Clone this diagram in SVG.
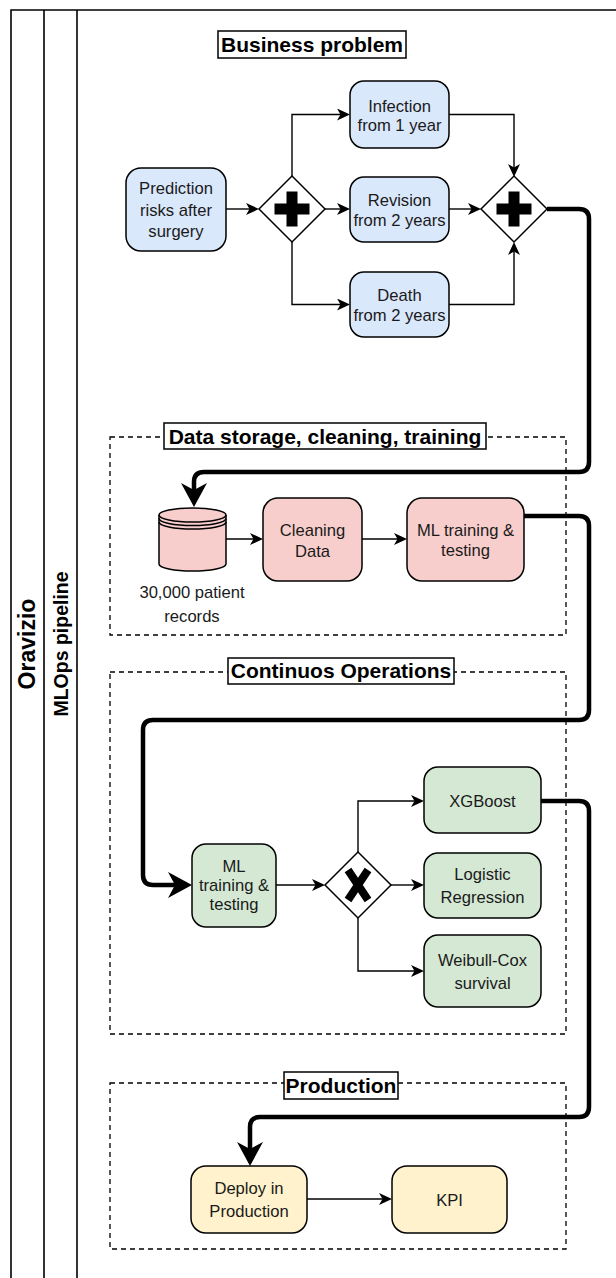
<svg xmlns="http://www.w3.org/2000/svg" width="616" height="1278" viewBox="0 0 616 1278">
<style>
.lane{fill:none;stroke:#000;stroke-width:1.6}
.box{stroke:#000;stroke-width:1.5}
.blue{fill:#dae8fc}
.red{fill:#f8cecc}
.green{fill:#d5e8d4}
.yellow{fill:#fff2cc}
.gw{fill:#fff;stroke:#000;stroke-width:1.5}
.t{font-family:"Liberation Sans",Arial,sans-serif;font-size:16.6px;fill:#1a1a1a;text-anchor:middle}
.title{font-family:"Liberation Sans",Arial,sans-serif;font-size:21px;font-weight:bold;fill:#000;text-anchor:middle}
.tbox{fill:#fff;stroke:#000;stroke-width:1.5}
.dash{fill:none;stroke:#000;stroke-width:1.3;stroke-dasharray:5 4}
.thin{fill:none;stroke:#000;stroke-width:1.4}
.thick{fill:none;stroke:#000;stroke-width:4.5}
</style>
<defs>
<marker id="a" markerUnits="userSpaceOnUse" markerWidth="14" markerHeight="14" refX="9" refY="6" orient="auto">
<path d="M0,0 L13,6 L0,12 L3.5,6 Z" fill="#000"/>
</marker>
<marker id="A" markerUnits="userSpaceOnUse" markerWidth="26" markerHeight="28" refX="14" refY="13" orient="auto">
<path d="M0,0 L24,13 L0,26 L7,13 Z" fill="#000"/>
</marker>
</defs>
<rect width="616" height="1278" fill="#fff"/>

<g id="lanes">
<path class="lane" d="M11,1280 V10 H620 M44,10 V1280 M77,10 V1280"/>
<text transform="translate(35,644) rotate(-90)" style="font-family:'Liberation Sans',Arial,sans-serif;font-size:23px;font-weight:bold;text-anchor:middle">Oravizio</text>
<text transform="translate(68,644) rotate(-90)" style="font-family:'Liberation Sans',Arial,sans-serif;font-size:19.5px;font-weight:bold;text-anchor:middle">MLOps pipeline</text>
</g>

<g id="sections">
<rect class="dash" x="110" y="437" width="456" height="198"/>
<rect class="dash" x="110" y="672" width="456" height="362"/>
<rect class="dash" x="110" y="1083" width="456" height="166"/>
</g>

<g id="connectors">
<path class="thin" d="M226,209 H255" marker-end="url(#a)"/>
<path class="thin" d="M292,177 V114.5 H346" marker-end="url(#a)"/>
<path class="thin" d="M325,209 H346" marker-end="url(#a)"/>
<path class="thin" d="M292,242 V304.5 H346" marker-end="url(#a)"/>
<path class="thin" d="M449,114.5 H514 V173" marker-end="url(#a)"/>
<path class="thin" d="M449,209 H477" marker-end="url(#a)"/>
<path class="thin" d="M449,304.5 H514 V246" marker-end="url(#a)"/>
<path class="thin" d="M226,539 H259" marker-end="url(#a)"/>
<path class="thin" d="M362,539 H403" marker-end="url(#a)"/>
<path class="thin" d="M276,885 H321" marker-end="url(#a)"/>
<path class="thin" d="M358,852 V801 H420" marker-end="url(#a)"/>
<path class="thin" d="M391,885 H420" marker-end="url(#a)"/>
<path class="thin" d="M358,918 V971 H420" marker-end="url(#a)"/>
<path class="thin" d="M307,1199 H388" marker-end="url(#a)"/>
<path class="thick" d="M547,209 H579 Q589,209 589,219 V462 Q589,472 579,472 H204 Q194,472 194,482 V497" marker-end="url(#A)"/>
<path class="thick" d="M524,516 H579 Q589,516 589,526 V710 Q589,720 579,720 H153 Q143,720 143,730 V875 Q143,885 153,885 H182" marker-end="url(#A)"/>
<path class="thick" d="M541,801 H579 Q589,801 589,811 V1107 Q589,1117 579,1117 H260 Q250,1117 250,1127 V1156" marker-end="url(#A)"/>
</g>

<g id="title-business">
<rect class="tbox" x="218" y="31" width="188" height="27"/>
<text class="title" x="312" y="51.5">Business problem</text>
</g>
<g id="title-data">
<rect class="tbox" x="164" y="423" width="322" height="26"/>
<text class="title" x="325" y="443.5">Data storage, cleaning, training</text>
</g>
<g id="title-ops">
<rect class="tbox" x="228" y="658" width="226" height="26"/>
<text class="title" x="341" y="677.5">Continuos Operations</text>
</g>
<g id="title-prod">
<rect class="tbox" x="284" y="1072" width="114" height="27"/>
<text class="title" x="341" y="1092.5">Production</text>
</g>

<g id="prediction">
<rect class="box blue" x="126" y="168" width="100" height="83" rx="15"/>
<text class="t" x="176" y="194">Prediction</text>
<text class="t" x="176" y="215.5">risks after</text>
<text class="t" x="176" y="237">surgery</text>
</g>
<g id="gateway1">
<path class="gw" d="M292,176 L325,209 L292,242 L259,209 Z"/>
<path d="M286.5,191.5 H297.5 V203.5 H309.5 V214.5 H297.5 V226.5 H286.5 V214.5 H274.5 V203.5 H286.5 Z" fill="#000"/>
</g>
<g id="infection">
<rect class="box blue" x="350" y="81" width="99" height="67" rx="14"/>
<text class="t" x="399.5" y="111.5">Infection</text>
<text class="t" x="399.5" y="131">from 1 year</text>
</g>
<g id="revision">
<rect class="box blue" x="350" y="177" width="99" height="65" rx="14"/>
<text class="t" x="399.5" y="205.5">Revision</text>
<text class="t" x="399.5" y="225.5">from 2 years</text>
</g>
<g id="death">
<rect class="box blue" x="350" y="272" width="99" height="65" rx="14"/>
<text class="t" x="399.5" y="301">Death</text>
<text class="t" x="399.5" y="321">from 2 years</text>
</g>
<g id="gateway2">
<path class="gw" d="M514,176 L547,209 L514,242 L481,209 Z"/>
<path d="M508.5,191.5 H519.5 V203.5 H531.5 V214.5 H519.5 V226.5 H508.5 V214.5 H496.5 V203.5 H508.5 Z" fill="#000"/>
</g>

<g id="records">
<path class="box red" d="M159,515 A33.5,7 0 0 1 226,515 V564 A33.5,7 0 0 1 159,564 Z"/>
<path fill="none" stroke="#000" stroke-width="1.5" d="M159,515 A33.5,7 0 0 0 226,515 M159,518.5 A33.5,7 0 0 0 226,518.5 M159,522 A33.5,7 0 0 0 226,522"/>
<text class="t" x="192" y="598">30,000 patient</text>
<text class="t" x="192" y="622">records</text>
</g>
<g id="cleaning">
<rect class="box red" x="263" y="498" width="99" height="83" rx="15"/>
<text class="t" x="312.5" y="535.5">Cleaning</text>
<text class="t" x="312.5" y="556.5">Data</text>
</g>
<g id="ml-train-1">
<rect class="box red" x="407" y="498" width="117" height="83" rx="15"/>
<text class="t" x="465.5" y="536">ML training &amp;</text>
<text class="t" x="465.5" y="555.5">testing</text>
</g>

<g id="ml-train-2">
<rect class="box green" x="192" y="844" width="84" height="83" rx="14"/>
<text class="t" x="234" y="871.5">ML</text>
<text class="t" x="234" y="891">training &amp;</text>
<text class="t" x="234" y="910">testing</text>
</g>
<g id="gateway-x">
<path class="gw" d="M358,852 L391,885 L358,918 L325,885 Z"/>
<path d="M348,870 L368,900 M368,870 L348,900" stroke="#000" stroke-width="8" fill="none"/>
</g>
<g id="xgboost">
<rect class="box green" x="424" y="767" width="117" height="66" rx="14"/>
<text class="t" x="482.5" y="806.5">XGBoost</text>
</g>
<g id="logistic">
<rect class="box green" x="424" y="853" width="117" height="65" rx="14"/>
<text class="t" x="482.5" y="880">Logistic</text>
<text class="t" x="482.5" y="903">Regression</text>
</g>
<g id="weibull">
<rect class="box green" x="424" y="935" width="117" height="72" rx="14"/>
<text class="t" x="482.5" y="966">Weibull-Cox</text>
<text class="t" x="482.5" y="989">survival</text>
</g>

<g id="deploy">
<rect class="box yellow" x="191" y="1166" width="116" height="67" rx="15"/>
<text class="t" x="249" y="1194">Deploy in</text>
<text class="t" x="249" y="1216.5">Production</text>
</g>
<g id="kpi">
<rect class="box yellow" x="392" y="1166" width="115" height="67" rx="15"/>
<text class="t" x="449.5" y="1205.5">KPI</text>
</g>
</svg>
